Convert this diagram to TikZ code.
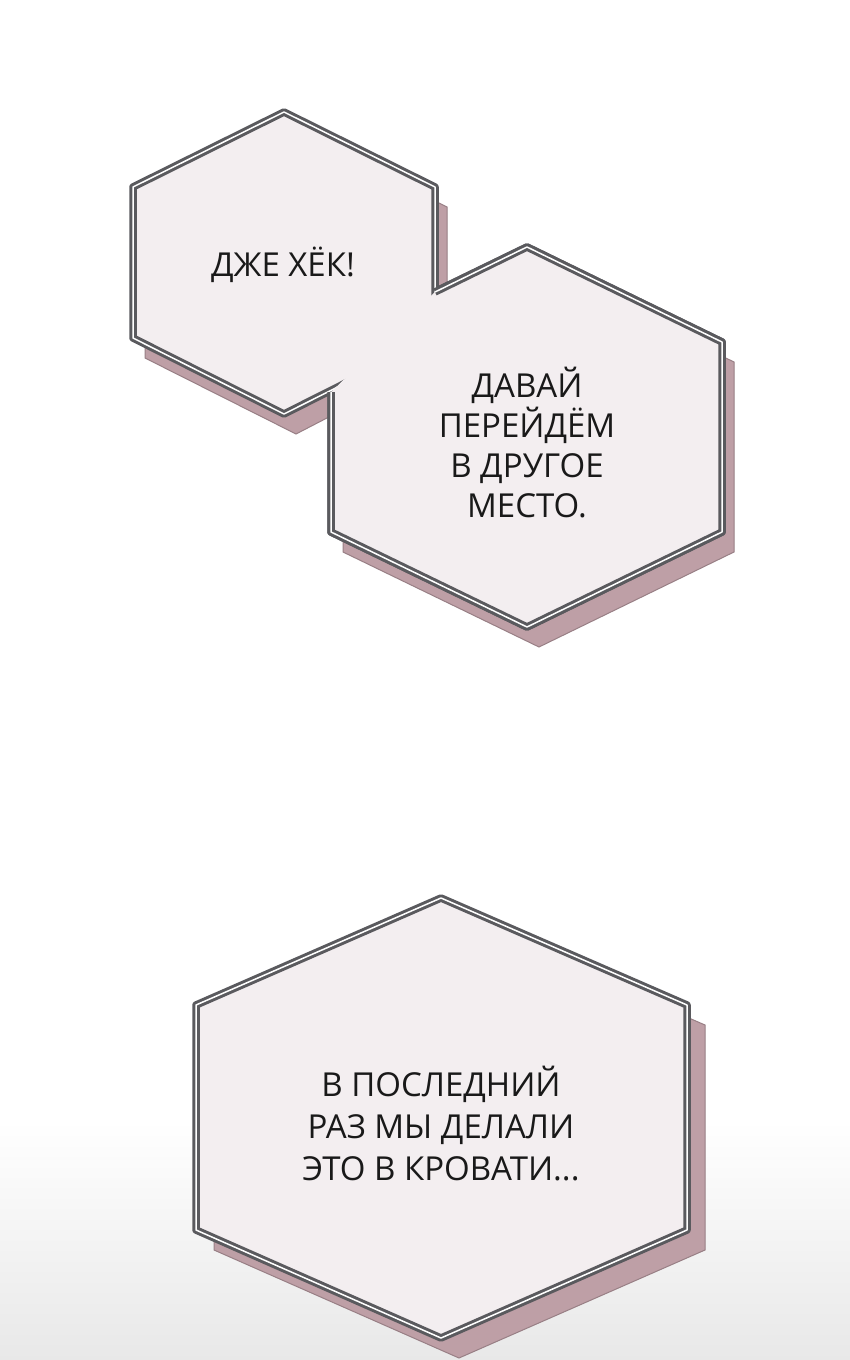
\documentclass[tikz,border=0pt]{standalone}
\usepackage{fontspec}
\setmainfont{Open Sans}
\begin{document}
\begin{tikzpicture}[x=1pt,y=-1pt,
  shadowc/.style={fill=shad,draw=shad!80!black,line width=1pt},
  hexb/.style={fill=hexf,draw=edge,line width=3pt,double=white,double distance=1.5pt,line join=round},
  txt/.style={font=\fontsize{33}{40}\selectfont,align=center,text=black!90}]
\definecolor{shad}{HTML}{BE9FA6}
\definecolor{hexf}{HTML}{F3EEF0}
\definecolor{edge}{HTML}{5A5A5E}
\useasboundingbox (0,0) rectangle (850,1360);
\fill[white] (0,0) rectangle (850,1360);
\shade[top color=white,bottom color=black!9] (0,1120) rectangle (850,1360);
% shadows
\fill[shadowc] (296,132)--(447,207)--(447,312)--(447,356)--(296,434)--(145,358)--(145,207)--cycle;
\fill[shadowc] (539,267)--(734,362)--(734,552)--(539,647)--(343,552)--(343,362)--cycle;
% hex2, hex1
\draw[hexb] (527,247)--(722,342)--(722,532)--(527,627)--(331,532)--(331,342)--cycle;
\draw[hexb] (284,112)--(435,187)--(435,338)--(284,414)--(133,338)--(133,187)--cycle;
\draw[hexb] (331,392)--(331,532)--(527,627)--(722,532)--(722,342)--(527,247)--(435,292);
\node[txt] (t1) at (283,265) {ДЖЕ ХЁК!};
\node[txt] (t2) at (527,443) {ДАВАЙ\\ПЕРЕЙДЁМ\\ В ДРУГОЕ\\МЕСТО.};
% hex3
\fill[shadowc] (459,918)--(705,1025)--(705,1250)--(459,1358)--(214,1250)--(214,1025)--cycle;
\draw[hexb] (441,898)--(687,1005)--(687,1230)--(441,1338)--(196,1230)--(196,1005)--cycle;
\node[txt,font=\fontsize{33}{42}\selectfont] (t3) at (441,1124) {В ПОСЛЕДНИЙ\\РАЗ МЫ ДЕЛАЛИ\\ ЭТО В КРОВАТИ...};
\end{tikzpicture}
\end{document}
